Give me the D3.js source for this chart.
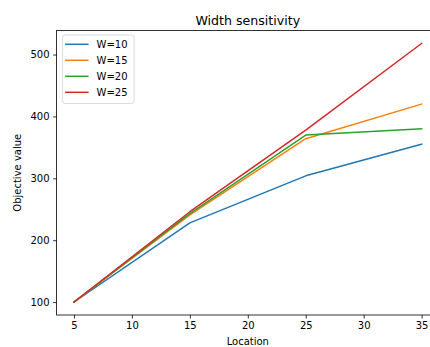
<!DOCTYPE html>
<html>
<head>
<meta charset="utf-8">
<script src="https://cdn.jsdelivr.net/npm/d3@7"></script>
<style>
  html, body { margin: 0; padding: 0; background: #fff; }
  svg { display: block; font-family: "DejaVu Sans", sans-serif; }
</style>
</head>
<body>
<svg id="chart" width="430" height="347"></svg>
<script>
// Objective value by location for each width setting
const locations = [5, 15, 25, 35];
const seriesNames = ["W=10", "W=15", "W=20", "W=25"];
const w10 = [100, 228, 304, 355];
const w15 = [100, 241, 364, 420];
const w20 = [100, 243, 370, 380];
const w25 = [100, 246, 378, 518];
const xTicks = [5, 10, 15, 20, 25, 30, 35];
const yTicks = [100, 200, 300, 400, 500];
const colors = ["#1f77b4", "#ff7f0e", "#2ca02c", "#d62728"];

const series = [w10, w15, w20, w25].map((vals, i) => ({
  name: seriesNames[i],
  color: colors[i],
  points: locations.map((x, j) => ({ x, y: vals[j] }))
}));

const svg = d3.select("#chart");
const plot = { left: 56.6, right: 439, top: 30.5, bottom: 315 };

// 5% padding around the data range, as in a default plot
const allY = [].concat(w10, w15, w20, w25);
const yMin = d3.min(allY), yMax = d3.max(allY);
const yPad = (yMax - yMin) * 0.05;
const xPad = (d3.max(locations) - d3.min(locations)) * 0.05;

const x = d3.scaleLinear()
  .domain([d3.min(locations) - xPad, d3.max(locations) + xPad])
  .range([plot.left, plot.right]);
const y = d3.scaleLinear()
  .domain([yMin - yPad, yMax + yPad])
  .range([plot.bottom, plot.top]);

// Lines
const line = d3.line().x(d => x(d.x)).y(d => y(d.y));
const lines = svg.append("g");
series.forEach(s => {
  lines.append("path")
    .datum(s.points)
    .attr("fill", "none")
    .attr("stroke", s.color)
    .attr("stroke-width", 1.5)
    .attr("stroke-linejoin", "round")
    .attr("stroke-linecap", "square")
    .attr("d", line);
});

// Frame
svg.append("rect")
  .attr("x", plot.left).attr("y", plot.top)
  .attr("width", plot.right - plot.left)
  .attr("height", plot.bottom - plot.top)
  .attr("fill", "none")
  .attr("stroke", "#000")
  .attr("stroke-width", 0.8);

// Axes
const xAxis = d3.axisBottom(x).tickValues(xTicks).tickSize(3.5).tickPadding(3.5).tickFormat(d3.format("d"));
const yAxis = d3.axisLeft(y).tickValues(yTicks).tickSize(3.5).tickPadding(3.5).tickFormat(d3.format("d"));

const gx = svg.append("g").attr("transform", `translate(0,${plot.bottom})`).call(xAxis);
const gy = svg.append("g").attr("transform", `translate(${plot.left},0)`).call(yAxis);
[gx, gy].forEach(g => {
  g.select(".domain").remove();
  g.selectAll(".tick line").attr("stroke", "#000").attr("stroke-width", 0.8);
  g.selectAll(".tick text")
    .attr("fill", "#000")
    .style("font-family", "'DejaVu Sans', sans-serif")
    .style("font-size", "10px");
});

// Title and axis labels
svg.append("text")
  .attr("x", (plot.left + plot.right) / 2)
  .attr("y", 24.5)
  .attr("text-anchor", "middle")
  .style("font-size", "12.6px")
  .attr("fill", "#000")
  .text("Width sensitivity");

svg.append("text")
  .attr("x", (plot.left + plot.right) / 2)
  .attr("y", 345)
  .attr("text-anchor", "middle")
  .style("font-size", "10px")
  .attr("fill", "#000")
  .text("Location");

svg.append("text")
  .attr("transform", `translate(21,${(plot.top + plot.bottom) / 2}) rotate(-90)`)
  .attr("text-anchor", "middle")
  .style("font-size", "10px")
  .attr("fill", "#000")
  .text("Objective value");

// Legend
const legend = svg.append("g").attr("transform", `translate(${plot.left + 6},${plot.top + 4.5})`);
legend.append("rect")
  .attr("x", 0).attr("y", 0)
  .attr("width", 71.5).attr("height", 68.5)
  .attr("rx", 2.5).attr("ry", 2.5)
  .attr("fill", "#fff").attr("fill-opacity", 0.8)
  .attr("stroke", "#d0d0d0").attr("stroke-width", 0.8);
series.forEach((s, i) => {
  const row = legend.append("g").attr("transform", `translate(0,${9.3 + i * 16})`);
  row.append("line")
    .attr("x1", 2.5).attr("x2", 26)
    .attr("y1", 0).attr("y2", 0)
    .attr("stroke", s.color).attr("stroke-width", 1.5);
  row.append("text")
    .attr("x", 34)
    .attr("y", 3.6)
    .style("font-size", "10px")
    .attr("fill", "#000")
    .text(s.name);
});
</script>
</body>
</html>
